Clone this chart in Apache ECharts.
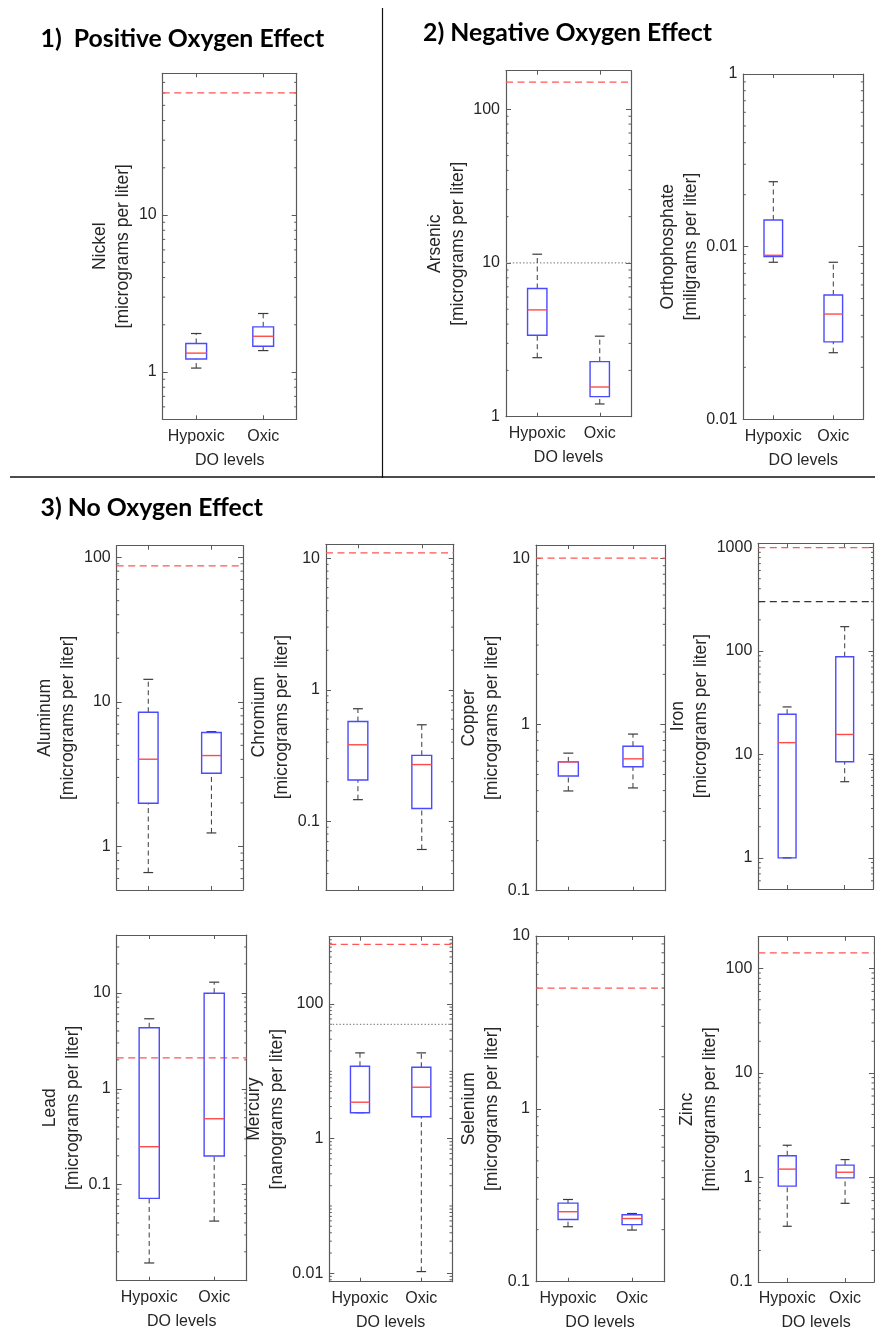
<!DOCTYPE html>
<html>
<head>
<meta charset="utf-8">
<script src="https://cdn.jsdelivr.net/npm/echarts@6/dist/echarts.min.js"></script>
<style>
  html, body { margin: 0; padding: 0; background: #fff; }
  #chart { width: 875px; height: 1332px; }
</style>
</head>
<body>
<div id="chart"></div>
<script>
// DO level groups on every panel
const categories = ['Hypoxic', 'Oxic'];

// Box statistics per DO level: [lower whisker, Q1, median, Q3, upper whisker]
const nickelStats         = [[1.06, 1.21, 1.32, 1.52, 1.76],      [1.37, 1.46, 1.69, 1.94, 2.36]];
const arsenicStats        = [[2.42, 3.39, 4.95, 6.82, 11.4],      [1.21, 1.35, 1.56, 2.28, 3.34]];
const orthophosphateStats = [[0.0812, 0.0875, 0.0891, 0.1426, 0.2378], [0.0243, 0.0281, 0.0407, 0.0525, 0.0812]];
const aluminumStats       = [[0.66, 1.99, 4.01, 8.47, 14.3],      [1.24, 3.21, 4.25, 6.14, 6.22]];
const chromiumStats       = [[0.146, 0.206, 0.382, 0.574, 0.718], [0.061, 0.125, 0.27, 0.317, 0.542]];
const copperStats         = [[0.398, 0.49, 0.595, 0.595, 0.672],  [0.415, 0.556, 0.621, 0.74, 0.875]];
const ironStats           = [[1.0, 1.0, 13.0, 24.5, 28.8],        [5.45, 8.49, 15.6, 88, 172]];
const leadStats           = [[0.0153, 0.072, 0.249, 4.32, 5.36],  [0.0418, 0.199, 0.487, 9.9, 12.9]];
const mercuryStats        = [[2.43, 2.43, 3.48, 11.9, 18.8],      [0.0106, 2.12, 5.81, 11.5, 18.8]];
const seleniumStats       = [[0.208, 0.229, 0.254, 0.285, 0.299], [0.199, 0.214, 0.232, 0.244, 0.248]];
const zincStats           = [[0.341, 0.826, 1.2, 1.61, 2.03],     [0.565, 0.99, 1.12, 1.31, 1.48]];

// Water-quality criteria (red dashed) and other reference levels
const nickelCriteria = [60];
const arsenicCriteria = [150];
const arsenicGuides = [10];
const aluminumCriteria = [87];
const chromiumCriteria = [11];
const copperCriteria = [10];
const ironCriteria = [1000];
const ironSecondary = [300];
const leadCriteria = [2.1];
const mercuryCriteria = [770];
const mercuryGuides = [50];
const seleniumCriteria = [5];
const zincCriteria = [140];

// Labelled y ticks
const nickelTicks = [1, 10];
const arsenicTicks = [1, 10, 100];
const orthophosphateTicks = [0.01, 0.1, 1];
const orthophosphateTickLabels = ['0.01', '0.01', '1'];
const aluminumTicks = [1, 10, 100];
const chromiumTicks = [0.1, 1, 10];
const copperTicks = [0.1, 1, 10];
const ironTicks = [1, 10, 100, 1000];
const leadTicks = [0.1, 1, 10];
const mercuryTicks = [0.01, 1, 100];
const seleniumTicks = [0.1, 1, 10];
const zincTicks = [0.1, 1, 10, 100];

const AXIS = '#5a5a5a';
const TEXT = '#262626';
const FONT = '"Liberation Sans", Arial, sans-serif';

// Panel layout: plot rectangle, axis range and label placement
const panels = [
  { stats: nickelStats, name: 'Nickel\n[micrograms per liter]', ticks: nickelTicks, min: 0.5, max: 80,
    red: nickelCriteria, left: 162.7, top: 73.3, width: 134, height: 346, gap: 25.4, xLabels: true },
  { stats: arsenicStats, name: 'Arsenic\n[micrograms per liter]', ticks: arsenicTicks, min: 1, max: 178,
    red: arsenicCriteria, dotted: arsenicGuides, left: 506, top: 70.7, width: 125, height: 346, gap: 35, xLabels: true },
  { stats: orthophosphateStats, name: 'Orthophosphate\n[miligrams per liter]', ticks: orthophosphateTicks,
    tickLabels: orthophosphateTickLabels, min: 0.01, max: 1,
    left: 743.3, top: 74, width: 120, height: 345.3, gap: 39.3, xLabels: true },
  { stats: aluminumStats, name: 'Aluminum\n[micrograms per liter]', ticks: aluminumTicks, min: 0.5, max: 120,
    red: aluminumCriteria, left: 116.7, top: 545.7, width: 126.3, height: 344.3, gap: 34.4, xLabels: false },
  { stats: chromiumStats, name: 'Chromium\n[micrograms per liter]', ticks: chromiumTicks, min: 0.03, max: 12.8,
    red: chromiumCriteria, left: 326, top: 544.3, width: 127.7, height: 345.7, gap: 30.7, xLabels: false },
  { stats: copperStats, name: 'Copper\n[micrograms per liter]', ticks: copperTicks, min: 0.1, max: 12,
    red: copperCriteria, left: 536, top: 545, width: 129.3, height: 345.7, gap: 30.3, xLabels: false },
  { stats: ironStats, name: 'Iron\n[micrograms per liter]', ticks: ironTicks, min: 0.5, max: 1100,
    red: ironCriteria, black: ironSecondary, left: 758.3, top: 543.3, width: 115.2, height: 345.7, gap: 44, xLabels: false },
  { stats: leadStats, name: 'Lead\n[micrograms per liter]', ticks: leadTicks, min: 0.01, max: 40,
    red: leadCriteria, left: 116.7, top: 935, width: 130, height: 345.7, gap: 29.4, xLabels: true },
  { stats: mercuryStats, name: 'Mercury\n[nanograms per liter]', ticks: mercuryTicks, min: 0.0075, max: 1000,
    red: mercuryCriteria, dotted: mercuryGuides, left: 329.3, top: 936.7, width: 122.7, height: 345, gap: 28.6, xLabels: true },
  { stats: seleniumStats, name: 'Selenium\n[micrograms per liter]', ticks: seleniumTicks, min: 0.1, max: 10,
    red: seleniumCriteria, left: 536, top: 936, width: 128, height: 345.7, gap: 28.7, xLabels: true },
  { stats: zincStats, name: 'Zinc\n[micrograms per liter]', ticks: zincTicks, min: 0.1, max: 200,
    red: zincCriteria, left: 758.3, top: 936.7, width: 115.7, height: 345.6, gap: 32.6, xLabels: true }
];

// Minor log ticks (2..9 per decade, plus unlabelled decades)
function minorTickValues(min, max, majors) {
  const out = [];
  const e0 = Math.floor(Math.log10(min)), e1 = Math.ceil(Math.log10(max));
  for (let e = e0; e <= e1; e++) {
    for (let m = 1; m <= 9; m++) {
      const v = m * Math.pow(10, e);
      const isMajor = majors.some(t => Math.abs(Math.log10(t / v)) < 1e-6);
      if (v > min * 1.0001 && v < max / 1.0001 && !isMajor) out.push(v);
    }
  }
  return out;
}

function fmtTick(v) {
  return String(+Number(v).toPrecision(6));
}

// Box-and-whisker glyph drawn through the panel's scales
function renderBox(params, api) {
  const idx = api.value(0);
  const vals = [1, 2, 3, 4, 5].map(i => api.value(i));
  const pts = vals.map(v => api.coord([idx, v]));
  const cx = pts[0][0];
  const y = pts.map(p => p[1]);
  const bw = params.coordSys.width * 0.155;
  const cw = bw * 0.5;
  const whisk = { stroke: '#3a3a3a', lineWidth: 1, lineDash: [5, 3.5], fill: null };
  const cap = { stroke: '#3a3a3a', lineWidth: 1.2, fill: null };
  const children = [];
  if (Math.abs(y[3] - y[4]) > 0.5) children.push({ type: 'line', shape: { x1: cx, y1: y[3], x2: cx, y2: y[4] }, style: whisk });
  if (Math.abs(y[0] - y[1]) > 0.5) children.push({ type: 'line', shape: { x1: cx, y1: y[0], x2: cx, y2: y[1] }, style: whisk });
  children.push({ type: 'line', shape: { x1: cx - cw / 2, y1: y[4], x2: cx + cw / 2, y2: y[4] }, style: cap });
  children.push({ type: 'line', shape: { x1: cx - cw / 2, y1: y[0], x2: cx + cw / 2, y2: y[0] }, style: cap });
  children.push({ type: 'rect', shape: { x: cx - bw / 2, y: y[3], width: bw, height: y[1] - y[3] },
    style: { fill: null, stroke: '#4a4aff', lineWidth: 1.4 } });
  children.push({ type: 'line', shape: { x1: cx - bw / 2, y1: y[2], x2: cx + bw / 2, y2: y[2] },
    style: { stroke: '#ff4a4a', lineWidth: 1.4 } });
  return { type: 'group', children };
}

// Horizontal reference level across the plot
const LEVEL_STYLES = [
  { stroke: '#ff5555', lineWidth: 1.3, lineDash: [7, 4.5] },
  { stroke: '#8c8c8c', lineWidth: 1.2, lineDash: [1.4, 2] },
  { stroke: '#333333', lineWidth: 1.3, lineDash: [7, 4.5] }
];
function renderLevel(params, api) {
  const cs = params.coordSys;
  const yy = api.coord([0, api.value(1)])[1];
  return { type: 'line', shape: { x1: cs.x, y1: yy, x2: cs.x + cs.width, y2: yy },
    style: Object.assign({ fill: null }, LEVEL_STYLES[api.value(2)]) };
}

// Minor ticks on both vertical edges
function renderMinor(params, api) {
  const cs = params.coordSys;
  const yy = api.coord([0, api.value(1)])[1];
  const st = { stroke: AXIS, lineWidth: 1, fill: null };
  return { type: 'group', children: [
    { type: 'line', shape: { x1: cs.x, y1: yy, x2: cs.x + 2.5, y2: yy }, style: st },
    { type: 'line', shape: { x1: cs.x + cs.width - 2.5, y1: yy, x2: cs.x + cs.width, y2: yy }, style: st }
  ] };
}

const grid = [], xAxis = [], yAxis = [], series = [];

panels.forEach((p, i) => {
  grid.push({ left: p.left, top: p.top, width: p.width, height: p.height, containLabel: false });

  const xBase = {
    type: 'category', data: categories, gridIndex: i, boundaryGap: true,
    axisLine: { show: true, lineStyle: { color: AXIS, width: 1.2 } },
    axisTick: { show: true, inside: true, alignWithLabel: true, interval: 0, length: 4, lineStyle: { color: AXIS } },
    splitLine: { show: false }
  };
  xAxis.push(Object.assign({}, xBase, {
    position: 'bottom',
    axisLabel: { show: p.xLabels, interval: 0, hideOverlap: false, margin: 9, fontSize: 16, color: TEXT, fontFamily: FONT },
    name: p.xLabels ? 'DO levels' : '',
    nameLocation: 'middle', nameGap: 33,
    nameTextStyle: { fontSize: 16, color: TEXT, fontFamily: FONT }
  }));
  xAxis.push(Object.assign({}, xBase, { position: 'top', axisLabel: { show: false } }));

  const labelFmt = p.tickLabels
    ? (v) => {
        let best = 0, bd = Infinity;
        p.ticks.forEach((t, k) => { const d = Math.abs(Math.log10(v / t)); if (d < bd) { bd = d; best = k; } });
        return p.tickLabels[best];
      }
    : fmtTick;

  const yBase = {
    type: 'log', logBase: 10, gridIndex: i, min: p.min, max: p.max,
    axisLine: { show: true, lineStyle: { color: AXIS, width: 1.2 } },
    axisTick: { show: true, inside: true, length: 5, customValues: p.ticks, lineStyle: { color: AXIS } },
    splitLine: { show: false },
    minorTick: { show: false }
  };
  yAxis.push(Object.assign({}, yBase, {
    position: 'left',
    axisLabel: { show: true, customValues: p.ticks, formatter: labelFmt, margin: 6,
      fontSize: 16, color: TEXT, fontFamily: FONT, showMinLabel: true, showMaxLabel: true },
    name: p.name, nameLocation: 'middle', nameRotate: 90, nameGap: p.gap,
    nameTextStyle: { fontSize: 17.5, lineHeight: 23, color: TEXT, fontFamily: FONT, align: 'center' }
  }));
  yAxis.push(Object.assign({}, yBase, { position: 'right', axisLabel: { show: false } }));

  const ax = { xAxisIndex: 2 * i, yAxisIndex: 2 * i };

  series.push(Object.assign({
    type: 'custom', renderItem: renderMinor, silent: true, z: 1,
    data: minorTickValues(p.min, p.max, p.ticks).map(v => [0, v])
  }, ax));

  const levels = [];
  (p.red || []).forEach(v => levels.push([0, v, 0]));
  (p.dotted || []).forEach(v => levels.push([0, v, 1]));
  (p.black || []).forEach(v => levels.push([0, v, 2]));
  if (levels.length) {
    series.push(Object.assign({ type: 'custom', renderItem: renderLevel, silent: true, z: 2, data: levels }, ax));
  }

  series.push(Object.assign({
    type: 'custom', renderItem: renderBox, silent: true, z: 3,
    encode: { x: 0, y: [1, 2, 3, 4, 5] },
    data: p.stats.map((s, k) => [k].concat(s))
  }, ax));
});

const TITLE_FONT = 'bold 24.8px Lato, "Open Sans", sans-serif';
const graphic = [
  { type: 'text', left: 40.5, top: 26.5, style: { text: '1)  Positive Oxygen Effect', font: TITLE_FONT, fill: '#000' } },
  { type: 'text', left: 423, top: 20.5, style: { text: '2) Negative Oxygen Effect', font: TITLE_FONT, fill: '#000' } },
  { type: 'text', left: 40.5, top: 495.5, style: { text: '3) No Oxygen Effect', font: TITLE_FONT, fill: '#000' } },
  { type: 'line', shape: { x1: 10, y1: 477, x2: 875, y2: 477 }, style: { stroke: '#111', lineWidth: 1.3 } },
  { type: 'line', shape: { x1: 382.5, y1: 8, x2: 382.5, y2: 478 }, style: { stroke: '#111', lineWidth: 1.2 } }
];

const chart = echarts.init(document.getElementById('chart'), null, { renderer: 'canvas' });
chart.setOption({
  backgroundColor: '#ffffff',
  animation: false,
  grid, xAxis, yAxis, series, graphic
});
</script>
</body>
</html>
